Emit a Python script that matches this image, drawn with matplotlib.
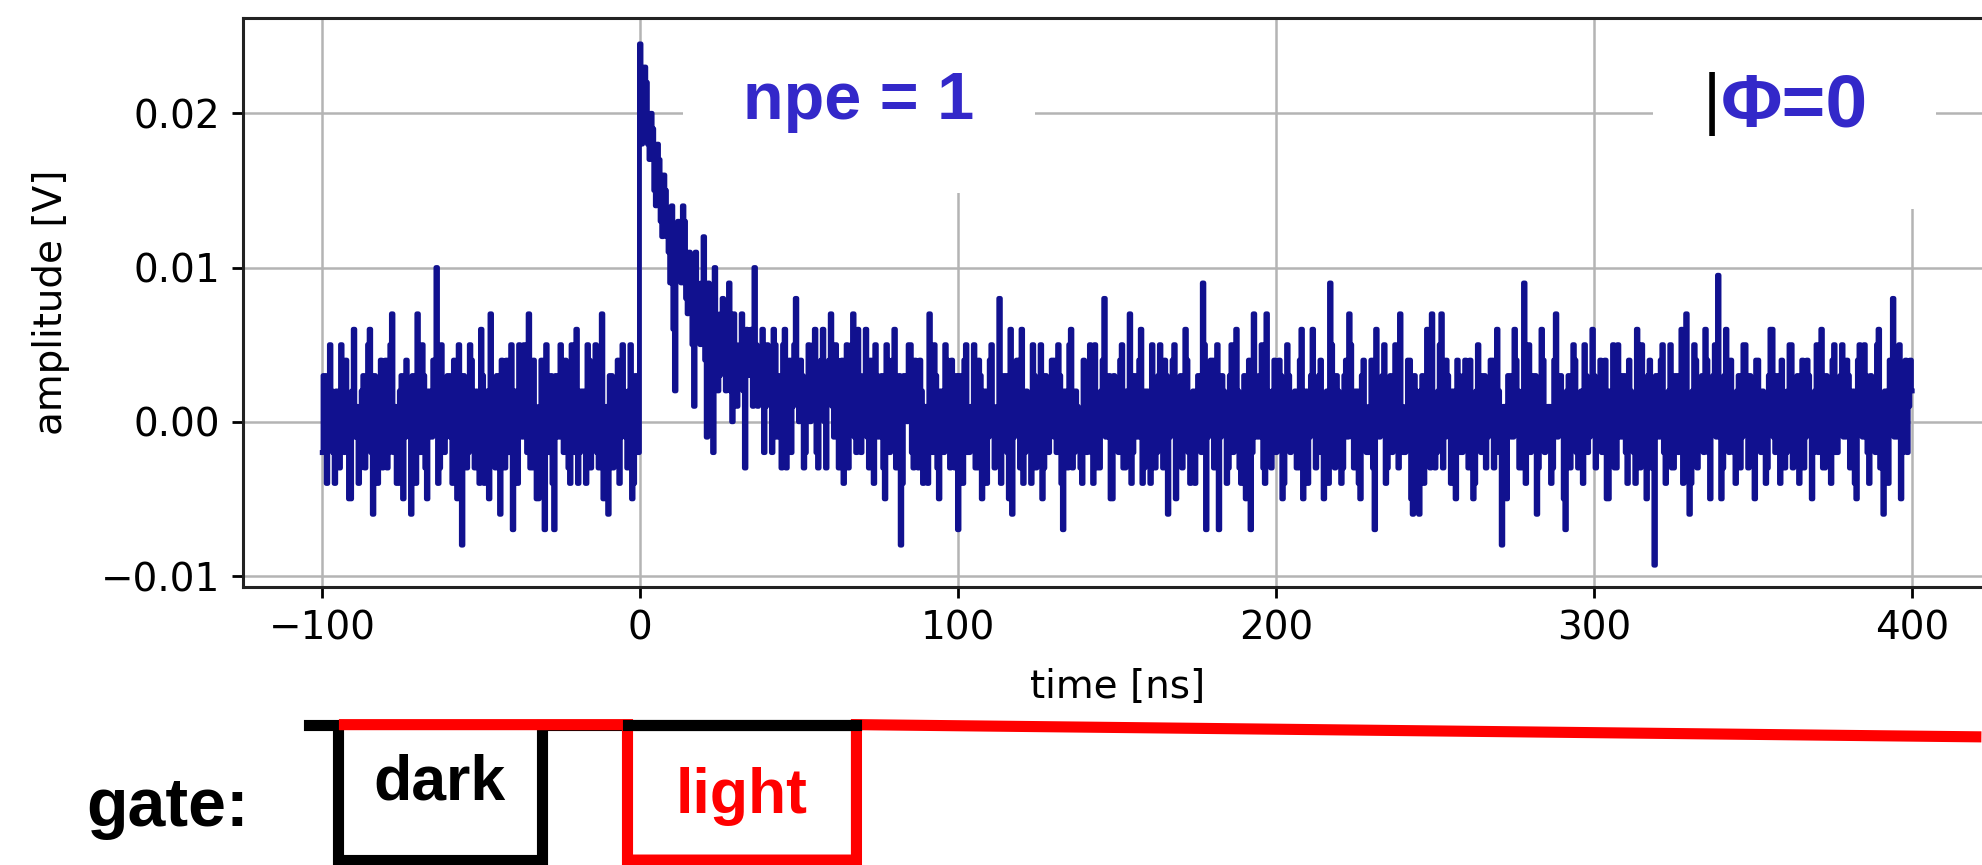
import numpy as np
import matplotlib
matplotlib.use('Agg')
import matplotlib.pyplot as plt

# scope trace sampled every 0.5 ns from -100 ns, amplitudes in mV.
# whole-ns samples and the half-ns samples in between are listed separately.
T0 = -100.0
DT = 0.5

# baseline before the pulse, -100 .. -1 ns
amp_pre_mV = [
    -2, 3, -1, 2, -4, 1, 5, -2, 0, -5, 6, 1, -3, 3, -1, 6, -6, 2, 0, -3,
    4, -2, 7, 1, -4, 3, -1, 2, -6, 1, 7, -2, 3, -5, 0, 4, 10, -3, 2, -1,
    3, -4, 1, 5, -8, 2, -2, 4, -3, 0, 6, -4, 2, 7, -1, 3, -6, 1, 4, -2,
    -7, 2, 5, -1, 3, 7, -3, 1, -5, 4, -7, 0, 3, -7, 2, 5, -2, 1, -4, 3,
    6, -2, 2, -4, 4, -1, 5, -3, 7, 0, -6, 3, -2, 4, -1, 2, -3, 5, -4, 3,
]
# single photo-electron pulse and its tail, 0 .. 99 ns
amp_pulse_mV = [
    24.5, 21, 22, 17, 19, 14, 17, 12, 15, 11, 14, 2, 13, 9, 13, 7, 10, 1, 9, 5,
    12, -1, 8, -2, 7, 3, 8, 2, 9, 0, 5, 3, 7, -3, 4, 6, 10, 1, 4, -2,
    5, 2, 6, -1, 3, 5, -3, 4, 1, 8, 0, 3, -2, 5, 2, 6, -3, 4, 0, 3,
    7, -1, 4, 1, -4, 5, 2, 7, -2, 3, 0, 6, -3, 2, 5, -1, 3, -5, 4, 1,
    6, -2, -8, 3, 0, 5, -3, 2, 4, -4, 1, 7, -2, 3, -5, 2, 5, -1, 4, -3,
]
# baseline after the pulse, 100 .. 400 ns
amp_post_mV = [
    -7, 2, 4, -2, 1, 5, -3, 3, 0, -4, 4, 1, -2, 8, -1, 3, -5, -6, 2, 4,
    6, -2, 1, -4, 3, 0, 5, -3, 2, -1, 4, -2, 3, -7, 1, 5, -3, 2, 0, -4,
    3, 1, -2, 5, -3, 2, 8, -1, -5, 3, 0, 4, -3, 2, 7, -2, 1, 4, -4, 2,
    -1, 5, -3, 3, 0, 4, -6, 2, 5, -2, 3, -1, 4, -4, 2, 0, 3, 9, -7, 1,
    4, -2, -7, 3, 1, -3, 5, 0, 2, -4, 3, 1, -7, 7, -1, 3, -3, 7, 0, 2,
    -2, 4, -5, 1, 3, -1, 2, -3, 6, 0, -4, 3, 1, -2, 4, -5, 2, 9, -2, 3,
    0, -3, 4, 7, -1, 2, -4, 3, 1, -2, 4, -7, 2, 0, 5, -3, 3, -1, 2, 7,
    -2, 1, 4, -6, 2, -6, 3, 0, 4, 7, -3, 2, 7, -1, 3, -4, 1, 4, -2, 3,
    0, 4, -5, 2, -1, 3, -3, 1, 4, -2, 2, -8, 1, 3, -1, 6, 2, -3, 9, 1,
    -2, 3, -6, 2, 4, -1, 1, -3, 7, 2, 0, -7, 3, -1, 4, -3, 2, 5, -2, 1,
    3, -1, 4, -2, -5, 2, 5, -3, 1, 3, -2, 4, 0, -4, 2, 5, -1, 3, -3, -9.3,
    2, 4, -2, 1, 5, -3, 3, 0, -4, 7, -6, 2, 4, -1, 3, 6, -2, 2, 5, 9.5,
    -5, 3, 1, 4, -2, 2, -3, 5, 0, 3, -2, 4, -1, 2, -4, 3, 6, -2, 1, 4,
    -3, 2, 5, -1, 3, 0, -3, 4, 1, -2, 5, 2, -3, 3, 0, 4, -2, 2, 5, -1,
    3, -2, -4, 4, 1, 5, -2, 3, 0, 5, -3, -6, 2, 4, 8, -1, 5, -2, 4, 1,
    2,
]

# half-ns samples, -99.5 .. -0.5 ns
half_pre_mV = [
    3, -4, 5, -2, 2, -3, 1, 4, -5, 2, -1, -4, 2, -3, 5, -2, 3, -4, 4, 1,
    -3, 5, -2, -4, 2, -5, 4, -1, 3, -4, -2, 5, -3, 2, -1, 3, -4, 5, -2, 3,
    -1, 4, -5, -2, 3, -3, 5, -1, 2, -4, 3, 1, -5, 2, -3, -1, 4, -3, -2, 5,
    2, -4, 3, 5, -2, -3, 4, -5, 1, -3, 5, -2, -4, 3, -1, 2, 4, -3, 5, -2,
    -4, 2, -1, 5, -3, 3, -2, 4, -5, 1, 3, -3, 2, -4, 5, -1, 2, -5, 3, -2,
]
# half-ns samples, 0.5 .. 99.5 ns
half_pulse_mV = [
    18, 23, 18, 20, 15, 18, 13, 16, 12, 9, 6, 10, 11, 14, 8, 11, 5, 11, 7, 9,
    4, 9, 3, 10, 2, 7, 4, 6, 2, 7, 1, 5, 2, 6, 3, 1, 5, 2, 6, 1,
    3, -2, 5, 2, -3, 6, 1, -2, 5, 3, 4, -3, 2, 0, 5, -2, 3, 6, -3, 4,
    1, 5, -3, 4, 2, -3, 5, -1, 6, -2, 3, -1, 4, -4, 3, 2, -3, 5, -2, 4,
    -3, 3, -4, 2, 5, -2, 4, -3, 2, 1, -4, 3, 5, -3, 2, -2, 4, -3, 1, 3,
]
# half-ns samples, 100.5 .. 399.5 ns
half_post_mV = [
    3, -4, 5, -2, 1, -3, 4, -5, 2, -1, 5, -3, 1, -4, 3, -2, 6, -1, 4, -3,
    -4, 2, -1, 5, -3, 1, -5, 3, -2, 4, -1, 5, -4, 2, -3, 6, -2, 1, -3, 4,
    -2, 5, -4, 1, -3, 4, -1, 3, -5, 2, -2, 5, -3, 1, -4, 3, -1, 6, -3, 2,
    -4, 1, -2, 5, -3, 3, -1, 4, -5, 2, -3, 6, -2, 1, -4, 3, -2, 5, -1, 4,
    -3, 5, -1, 2, -4, 3, -2, 6, -3, 1, -5, 4, -2, 3, -1, 5, -4, 2, -3, 4,
    -1, 3, -4, 5, -2, 1, -3, 4, -5, 2, -1, 6, -3, 3, -2, 1, -4, 5, -3, 2,
    -4, 3, -1, 5, -3, 2, -5, 4, -2, 1, -3, 6, -1, 3, -4, 2, -2, 5, -3, 1,
    -2, 4, -5, 3, -1, 2, -4, 6, -3, 1, -2, 5, -3, 4, -1, 2, -5, 3, -2, 4,
    -3, 1, -4, 5, -2, 3, -1, 4, -3, 6, -2, 1, -5, 3, -1, 4, -3, 2, -4, 5,
    -1, 3, -3, 6, -2, 1, -4, 4, -1, 3, -5, 2, -3, 5, -2, 1, -4, 3, -1, 6,
    -3, 2, -2, 4, -5, 1, -3, 5, -1, 3, -4, 2, -2, 6, -3, 1, -5, 4, -2, 3,
    -1, 5, -4, 2, -3, 3, -2, 6, -1, 1, -4, 5, -3, 2, -2, 4, -5, 3, -1, 2,
    -3, 6, -2, 1, -4, 3, -1, 5, -3, 2, -5, 4, -2, 1, -3, 6, -1, 3, -4, 2,
    -2, 5, -3, 1, -4, 4, -1, 3, -5, 2, -2, 6, -3, 1, -4, 5, -2, 3, -1, 4,
    -3, 2, -5, 5, -1, 3, -4, 1, -2, 6, -3, 2, -4, 4, -1, 3, -5, 2, -2, 4,
]

x_ticks = [-100, 0, 100, 200, 300, 400]
y_ticks = [-0.01, 0.00, 0.01, 0.02]

# integration gates [ns]
gate_start = -104
dark_gate = (-95, -31)
red_start = -93
light_gate = (-4, 68)
gate_end = 420

whole = np.array(amp_pre_mV + amp_pulse_mV + amp_post_mV)
half = np.array(half_pre_mV + half_pulse_mV + half_post_mV)
amplitude = np.empty(len(whole) + len(half))
amplitude[0::2] = whole
amplitude[1::2] = half
amplitude *= 1e-3
time = T0 + DT * np.arange(len(amplitude))

TRACE = '#11118f'
LABEL_BLUE = '#3328c9'
BOLD = 'Liberation Sans'

fig = plt.figure(figsize=(19.83, 8.65), dpi=100)
ax = fig.add_axes([0.1224, 0.3216, 0.882, 0.658])
ax.plot(time, amplitude, color=TRACE, lw=3.5, drawstyle='steps-mid', zorder=2)
ax.set_xlim(-125, 425)
ax.set_ylim(-0.0107, 0.0262)
ax.set_xticks(x_ticks)
ax.set_yticks(y_ticks)
ax.grid(True, color='#b4b4b4', lw=1.8)
ax.tick_params(labelsize=28, length=8, width=2, pad=8)
for s in ax.spines.values():
    s.set_linewidth(2.2)
    s.set_color('#222222')
ax.set_xlabel('time [ns]', fontsize=28)
ax.xaxis.set_label_coords(0.5, -0.142)
ax.set_ylabel('amplitude [V]', fontsize=28)
ax.yaxis.set_label_coords(-0.099, 0.5)

box = dict(boxstyle='square,pad=0.9', facecolor='white', edgecolor='none')
ax.text(68.8, 0.0207, 'npe = 1', color=LABEL_BLUE, fontsize=48, fontweight='bold',
        family=BOLD, ha='center', va='center', bbox=box, zorder=1.8)
ax.text(363, 0.0204, 'Φ=0', color=LABEL_BLUE, fontsize=54, fontweight='bold',
        family=BOLD, ha='center', va='center', bbox=box, zorder=1.8)
ax.text(337.0, 0.0206, '|', color='black', fontsize=50, family=BOLD,
        ha='center', va='center', zorder=1.9)

# gate timing diagram below the trace
gx = fig.add_axes([0.1224, 0.0, 0.882, 0.19], sharex=ax)
gx.set_ylim(0, 1)
gx.axis('off')
hi, lo, hi_end = 0.854, 0.03, 0.78
line_kw = dict(lw=8, solid_joinstyle='miter', solid_capstyle='projecting', clip_on=False)
gx.plot([gate_start, dark_gate[0], dark_gate[0], dark_gate[1], dark_gate[1], light_gate[1]],
        [hi, hi, lo, lo, hi, hi], color='black', zorder=2, **line_kw)
gx.plot([red_start, light_gate[0], light_gate[0], light_gate[1], light_gate[1], gate_end],
        [hi, hi, lo, lo, hi, hi_end], color='red', zorder=3, **line_kw)
# black top of the light window sits above the red edge
gx.plot([light_gate[0], light_gate[1]], [hi, hi], color='black', zorder=4, **line_kw)

gx.text(sum(dark_gate) / 2, 0.5, 'dark', color='black', fontsize=45, fontweight='bold',
        family=BOLD, ha='center', va='center')
gx.text(sum(light_gate) / 2, 0.415, 'light', color='red', fontsize=45, fontweight='bold',
        family=BOLD, ha='center', va='center')
fig.text(0.0434, 0.066, 'gate:', color='black', fontsize=49, fontweight='bold',
         family=BOLD, ha='left', va='center')

fig.savefig('out.png', dpi=100, facecolor='white')
